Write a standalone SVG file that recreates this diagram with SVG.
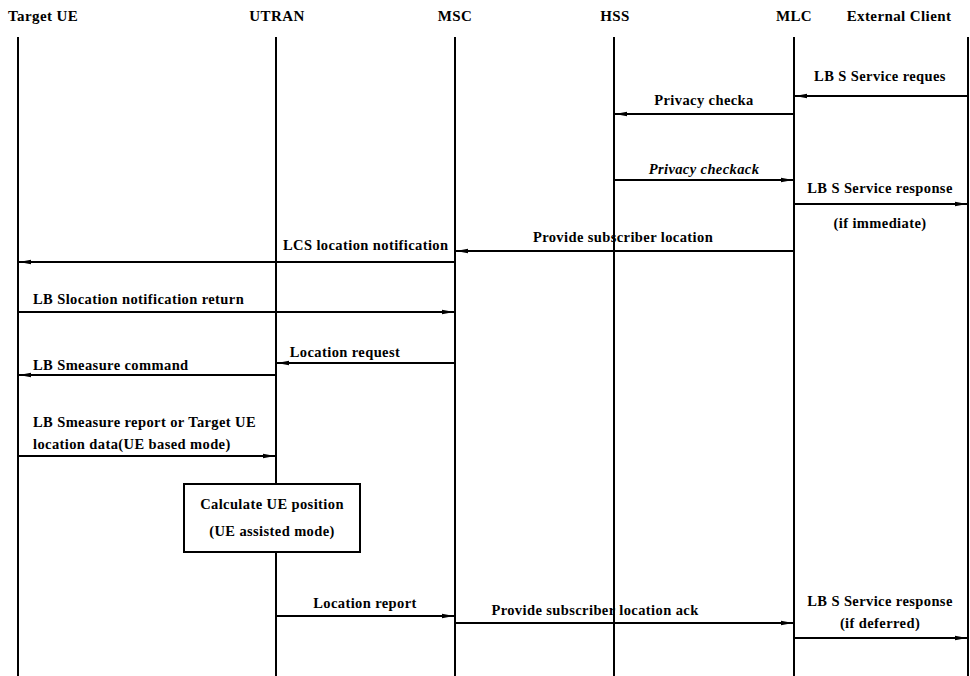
<svg xmlns="http://www.w3.org/2000/svg" width="970" height="676" viewBox="0 0 970 676">
<defs>
<marker id="ah" markerWidth="12" markerHeight="6" refX="12" refY="3" orient="auto" markerUnits="userSpaceOnUse">
<path d="M0,0.8 L12,3 L0,5.2 Z" fill="#000"/>
</marker>
<style>
text{font-family:"Liberation Serif","DejaVu Serif",serif;font-weight:bold;font-size:14.5px;letter-spacing:0.4px;fill:#000}
.h{font-size:15px}
.m{text-anchor:middle}
.ll{stroke:#000;stroke-width:2;fill:none}
.ar{stroke:#000;stroke-width:1.8;fill:none;marker-end:url(#ah)}
</style>
</defs>
<rect width="970" height="676" fill="#fff"/>
<g id="targetue"><text class="h" x="8" y="21">Target UE</text><line class="ll" x1="18" y1="37" x2="18" y2="676"/></g>
<g id="utran"><text class="h m" x="277" y="21">UTRAN</text><line class="ll" x1="276" y1="37" x2="276" y2="676"/></g>
<g id="msc"><text class="h m" x="455" y="21">MSC</text><line class="ll" x1="455" y1="37" x2="455" y2="676"/></g>
<g id="hss"><text class="h m" x="615" y="21">HSS</text><line class="ll" x1="614" y1="37" x2="614" y2="676"/></g>
<g id="mlc"><text class="h m" x="794" y="21">MLC</text><line class="ll" x1="794" y1="37" x2="794" y2="676"/></g>
<g id="client"><text class="h m" x="899" y="21">External Client</text><line class="ll" x1="968" y1="37" x2="968" y2="676"/></g>
<g id="calc"><rect x="184" y="484" width="176" height="68" fill="#fff" stroke="#000" stroke-width="2"/><text class="m" x="272" y="509">Calculate UE position</text><text class="m" x="272" y="536">(UE assisted mode)</text></g>
<g id="connectors">
<line class="ar" x1="968" y1="96" x2="795" y2="96"/>
<text class="m" x="880" y="81">LB S Service reques</text>
<line class="ar" x1="794" y1="114" x2="615" y2="114"/>
<text class="m" x="704" y="105">Privacy checka</text>
<line class="ar" x1="614" y1="180" x2="793" y2="180"/>
<text class="m" x="704" y="174" font-style="italic">Privacy checkack</text>
<line class="ar" x1="794" y1="204" x2="967" y2="204"/>
<text class="m" x="880" y="193">LB S Service response</text>
<text class="m" x="880" y="228">(if immediate)</text>
<line class="ar" x1="794" y1="251" x2="456" y2="251"/>
<text class="m" x="623" y="242">Provide subscriber location</text>
<line class="ar" x1="455" y1="262" x2="19" y2="262"/>
<text x="283" y="250">LCS location notification</text>
<line class="ar" x1="18" y1="312" x2="454" y2="312"/>
<text x="33" y="304">LB Slocation notification return</text>
<line class="ar" x1="455" y1="363" x2="277" y2="363"/>
<text class="m" x="345" y="357">Location request</text>
<line class="ar" x1="276" y1="375" x2="19" y2="375"/>
<text x="33" y="370">LB Smeasure command</text>
<line class="ar" x1="18" y1="456" x2="275" y2="456"/>
<text x="33" y="427">LB Smeasure report or Target UE</text>
<text x="33" y="449">location data(UE based mode)</text>
<line class="ar" x1="276" y1="616" x2="454" y2="616"/>
<text class="m" x="365" y="608">Location report</text>
<line class="ar" x1="455" y1="623" x2="793" y2="623"/>
<text class="m" x="595" y="615">Provide subscriber location ack</text>
<line class="ar" x1="794" y1="638" x2="967" y2="638"/>
<text class="m" x="880" y="606">LB S Service response</text>
<text class="m" x="880" y="628">(if deferred)</text>
</g>
</svg>
